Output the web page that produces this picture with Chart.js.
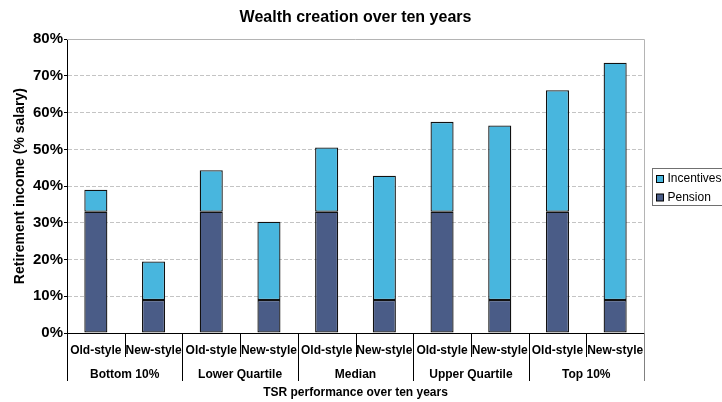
<!DOCTYPE html>
<html>
<head>
<meta charset="utf-8">
<script src="https://cdn.jsdelivr.net/npm/chart.js@4"></script>
<style>
  html, body { margin: 0; padding: 0; background: #fff; }
  #wrap { width: 722px; height: 402px; }
</style>
</head>
<body>
<div id="wrap"><canvas id="grafico" width="722" height="402"></canvas></div>
<script>
// ── Dados ───────────────────────────────────────────────────────
const grupos = ['Bottom 10%', 'Lower Quartile', 'Median', 'Upper Quartile', 'Top 10%'];
const estilos = ['Old-style', 'New-style'];
const pensao = [33, 9, 33, 9, 33, 9, 33, 9, 33, 9];
const incentivos = [6, 10.5, 11.3, 21.3, 17.5, 33.8, 24.5, 47.5, 33.1, 64.6];
const yTickLabels = ['0%', '10%', '20%', '30%', '40%', '50%', '60%', '70%', '80%'];

const categorias = [];
grupos.forEach(() => estilos.forEach(s => categorias.push(s)));

const FONTE = "'Liberation Sans', Arial, sans-serif";
const COR_PENSAO = '#4a5c87';
const COR_INCENT = '#48b6de';

// ── Plugin: eixo de dois níveis, bordas e legenda em caixa ──────
const extrasPlugin = {
    id: 'extras',
    afterDraw(chart) {
        const ctx = chart.ctx;
        const area = chart.chartArea;
        const x = chart.scales.x;
        const n = categorias.length;
        const passo = (x.right - x.left) / n;

        ctx.save();
        // bordas superior e direita do plot
        ctx.strokeStyle = '#b4b4b4';
        ctx.lineWidth = 1;
        ctx.beginPath();
        ctx.moveTo(area.left, Math.round(area.top) + 0.5);
        ctx.lineTo(area.right + 0.5, Math.round(area.top) + 0.5);
        ctx.lineTo(area.right + 0.5, area.bottom);
        ctx.stroke();

        // separadores das categorias
        for (let i = 0; i <= n; i++) {
            const px = Math.round(x.left + i * passo) + 0.5;
            const grupo = i % estilos.length === 0;
            ctx.strokeStyle = i === n ? '#808080' : '#000';
            ctx.beginPath();
            ctx.moveTo(px, area.bottom);
            ctx.lineTo(px, area.bottom + (grupo ? 48 : 24));
            ctx.stroke();
        }

        // rótulos dos grupos
        ctx.fillStyle = '#000';
        ctx.font = 'bold 12px ' + FONTE;
        ctx.textAlign = 'center';
        ctx.textBaseline = 'middle';
        grupos.forEach((g, gi) => {
            const a = x.getPixelForValue(gi * estilos.length);
            const b = x.getPixelForValue(gi * estilos.length + estilos.length - 1);
            ctx.fillText(g, (a + b) / 2, area.bottom + 41.5);
        });

        // legenda com borda
        const itens = chart.data.datasets.slice().reverse();
        const lx = area.right + 8.5;
        const ly = Math.round((area.top + area.bottom) / 2 - 18.5) + 0.5;
        ctx.strokeStyle = '#707070';
        ctx.strokeRect(lx, ly, 80, 37);
        ctx.font = '12px ' + FONTE;
        ctx.textAlign = 'left';
        itens.forEach((ds, i) => {
            const cy = ly + 10.5 + i * 18.5;
            ctx.fillStyle = ds.backgroundColor;
            ctx.fillRect(lx + 4, cy - 3.5, 7, 7);
            ctx.strokeStyle = '#000';
            ctx.strokeRect(lx + 4, cy - 3.5, 7, 7);
            ctx.fillStyle = '#000';
            ctx.fillText(ds.label, lx + 15, cy);
        });
        ctx.restore();
    }
};

// ── Gráfico ─────────────────────────────────────────────────────
const ctx = document.getElementById('grafico').getContext('2d');
new Chart(ctx, {
    type: 'bar',
    data: {
        labels: categorias,
        datasets: [{
            label: 'Pension',
            data: pensao,
            backgroundColor: COR_PENSAO,
            borderColor: '#111',
            borderWidth: 1.3,
            borderSkipped: false,
            inflateAmount: 0
        }, {
            label: 'Incentives',
            data: incentivos,
            backgroundColor: COR_INCENT,
            borderColor: '#111',
            borderWidth: 1.3,
            borderSkipped: false,
            inflateAmount: 0
        }]
    },
    options: {
        responsive: false,
        animation: false,
        devicePixelRatio: 1,
        layout: { padding: { top: 0, right: 78, bottom: 0, left: 0 } },
        datasets: { bar: { categoryPercentage: 1, barPercentage: 0.4 } },
        plugins: {
            legend: { display: false },
            tooltip: { enabled: false },
            title: {
                display: true,
                text: 'Wealth creation over ten years',
                fullSize: false,
                color: '#000',
                font: { family: FONTE, size: 16, weight: 'bold' },
                padding: { top: 8, bottom: 12 }
            }
        },
        scales: {
            x: {
                stacked: true,
                grid: { display: false, drawTicks: false },
                border: { display: true, color: '#000', width: 1 },
                ticks: {
                    color: '#000',
                    autoSkip: false,
                    maxRotation: 0,
                    minRotation: 0,
                    padding: 10,
                    font: { family: FONTE, size: 12, weight: 'bold' }
                },
                title: {
                    display: true,
                    text: 'TSR performance over ten years',
                    color: '#000',
                    font: { family: FONTE, size: 12, weight: 'bold' },
                    padding: { top: 0, bottom: 2 }
                },
                afterFit: s => { s.height = 69; }
            },
            y: {
                stacked: true,
                min: 0,
                max: 80,
                grid: {
                    color: '#c4c4c4',
                    tickColor: '#000',
                    tickLength: 3
                },
                border: { display: true, color: '#000', width: 1, dash: [4, 2] },
                ticks: {
                    stepSize: 10,
                    padding: 1,
                    color: '#000',
                    font: { family: FONTE, size: 15, weight: 'bold' },
                    callback: (v, i) => yTickLabels[i]
                },
                title: {
                    display: true,
                    text: 'Retirement income (% salary)',
                    color: '#000',
                    font: { family: FONTE, size: 14, weight: 'bold' },
                    padding: { top: 12, bottom: 0 }
                },
                afterFit: s => { s.width = 67; }
            }
        }
    },
    plugins: [extrasPlugin]
});
</script>
</body>
</html>
